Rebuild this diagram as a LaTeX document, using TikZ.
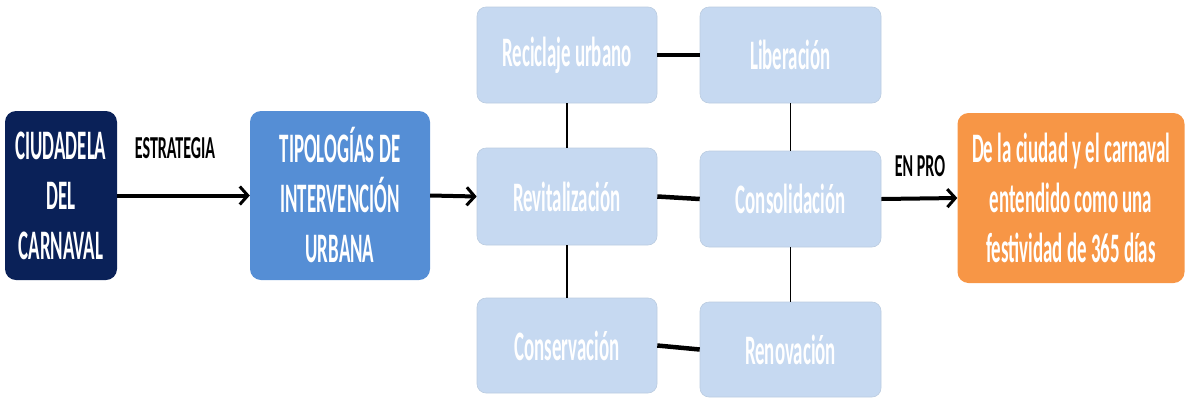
\documentclass[tikz,border=0pt]{standalone}
\usepackage{fontspec}
\newfontfamily\cf[FakeStretch=0.45]{Carlito}
\newfontfamily\cfl[FakeStretch=0.5]{Carlito}
\usetikzlibrary{arrows.meta}
\definecolor{navy}{HTML}{0A2158}
\definecolor{midblue}{HTML}{558ED5}
\definecolor{lightblue}{HTML}{C6D9F1}
\definecolor{orng}{HTML}{F79646}
\begin{document}
\begin{tikzpicture}[x=1pt,y=-1pt,
  box/.style={rounded corners=11pt,inner sep=0pt,align=center,text=white,
    font=\cf\bfseries\fontsize{42}{50}\selectfont},
  small/.style={box,fill=lightblue,draw=lightblue!85!gray,line width=0.6pt,
    minimum width=180pt,minimum height=96pt,rounded corners=9pt},
  lbl/.style={inner sep=0pt,font=\cfl\bfseries\fontsize{32}{36}\selectfont},
  arr/.style={line width=4pt,-{Straight Barb[length=8pt,width=18pt,line width=3pt]}},
  thk/.style={line width=4.5pt},
  thn/.style={line width=1.8pt}]
\useasboundingbox (0,0) rectangle (1185,397);
\node[box,fill=navy,minimum width=112pt,minimum height=169pt] (ciu) at (61,195.5)
  {CIUDADELA\\DEL\\CARNAVAL};
\node[box,fill=midblue,minimum width=180pt,minimum height=169pt] (tip) at (340,195.5)
  {TIPOLOGÍAS DE\\INTERVENCIÓN\\URBANA};
\node[small] (rec) at (567,55) {Reciclaje urbano};
\node[small,minimum width=181pt] (lib) at (790.5,55) {Liberación};
\node[small,minimum height=97pt] (rev) at (567,196.5) {Revitalización};
\node[small,minimum width=181pt] (con) at (790.5,199) {Consolidación};
\node[small,minimum height=95pt] (cns) at (567,345.5) {Conservación};
\node[small,minimum width=181pt,minimum height=95pt] (ren) at (790.5,349.5) {Renovación};
\node[box,fill=orng,minimum width=227pt,minimum height=170pt] (fes) at (1071,198)
  {De la ciudad y el carnaval\\entendido como una\\festividad de 365 días};
\node[lbl] (est) at (175,148) {ESTRATEGIA};
\node[lbl] (pro) at (920,166) {EN PRO};
\draw[arr] (ciu.east) -- (tip.west);
\draw[arr] (tip.east) -- (rev.west);
\draw[arr] (con.east) -- (fes.west);
\draw[thk] (rec.east) -- (lib.west);
\draw[thk] (rev.east) -- (con.west);
\draw[thk] (cns.east) -- (ren.west);
\draw[thn] (rec.south) -- (rev.north);
\draw[thn] (rev.south) -- (cns.north);
\draw[thn] (lib.south) -- (con.north);
\draw[thn] (con.south) -- (ren.north);
\end{tikzpicture}
\end{document}
